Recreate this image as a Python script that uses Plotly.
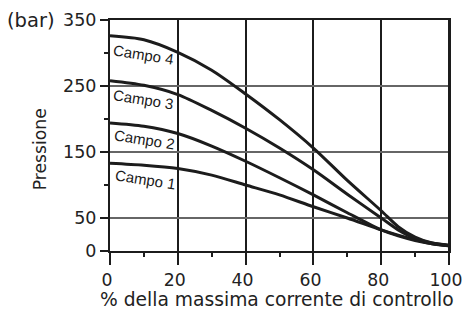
import plotly.graph_objects as go

x_pct = [0, 10, 20, 30, 40, 50, 60, 70, 80, 85, 90, 95, 100]
campo4 = [326, 320, 301, 274, 238, 199, 156, 107, 61, 37, 21, 12, 9]
campo3 = [258, 251, 237, 213, 186, 156, 123, 86, 50, 32, 19, 12, 8]
campo2 = [194, 189, 178, 159, 136, 111, 85, 58, 32, 23, 16, 11, 8]
campo1 = [133, 130, 125, 115, 100, 85, 67, 50, 32, 24, 17, 11, 8]
series_names = ["Campo 1", "Campo 2", "Campo 3", "Campo 4"]
label_pos = [(10.5, 108), (10.2, 169), (10.0, 230), (9.8, 297)]

y_tickvals = [0, 50, 150, 250, 350]
y_ticktext = ["0", "50", "150", "250", "350"]
y_minor = [100, 200, 300]
x_tickvals = [0, 20, 40, 60, 80, 100]
x_minor = [10, 30, 50, 70, 90]

FONT = "DejaVu Sans"
LINE = "#1c1c1c"
TXT = "#222"

fig = go.Figure()
for name, ys in zip(series_names, [campo1, campo2, campo3, campo4]):
    fig.add_trace(go.Scatter(x=x_pct, y=ys, mode="lines", name=name,
                             line=dict(color=LINE, width=3, shape="spline", smoothing=0.8),
                             showlegend=False, hoverinfo="skip"))

for name, (lx, ly) in zip(series_names, label_pos):
    fig.add_annotation(x=lx, y=ly, text=name, showarrow=False, textangle=9,
                       font=dict(family="Liberation Sans", size=15, color="#1a1a1a"),
                       xanchor="center", yanchor="middle")

fig.add_annotation(xref="paper", yref="y", x=-0.156, y=350, text="(bar)", showarrow=False,
                   xanchor="right", yanchor="middle", font=dict(family=FONT, size=19.5, color=TXT))
fig.add_annotation(xref="paper", yref="y", x=-0.204, y=154, text="Pressione", showarrow=False,
                   textangle=-90, xanchor="center", yanchor="middle",
                   font=dict(family=FONT, size=17.2, color=TXT))
fig.add_annotation(xref="paper", yref="paper", x=0.494, y=-0.212,
                   text="% della massima corrente di controllo", showarrow=False,
                   xanchor="center", yanchor="middle", font=dict(family=FONT, size=18.7, color=TXT))

fig.add_shape(type="line", xref="paper", yref="paper", x0=1, x1=1, y0=0, y1=1,
              line=dict(color=LINE, width=2))

fig.update_xaxes(range=[0, 100], tickvals=x_tickvals, ticks="outside", ticklen=12,
                 tickwidth=1.5, tickcolor=LINE, showline=True, linecolor=LINE, linewidth=2,
                 mirror=True, showgrid=True, gridcolor=LINE, gridwidth=2, zeroline=False,
                 ticklabeloverflow="allow", automargin=False, ticklabelshift=-3,
                 minor=dict(tickvals=x_minor, ticks="outside", ticklen=4, tickcolor=LINE, showgrid=False),
                 tickfont=dict(family=FONT, size=17.3, color=TXT))
fig.update_yaxes(range=[0, 350], tickvals=y_tickvals, ticktext=y_ticktext, ticks="outside",
                 ticklen=8, tickwidth=1.5, tickcolor=LINE, showline=True, linecolor=LINE,
                 linewidth=2, mirror=True, showgrid=True, gridcolor="#666", gridwidth=1.5,
                 zeroline=False, automargin=False,
                 minor=dict(tickvals=y_minor, ticks="outside", ticklen=4, tickcolor=LINE, showgrid=False),
                 tickfont=dict(family=FONT, size=17.5, color=TXT))

fig.update_layout(width=464, height=309, margin=dict(l=110, r=15, t=20, b=58),
                  plot_bgcolor="white", paper_bgcolor="white")

fig.write_html("out.html", config={"displayModeBar": False},
               post_script="document.body.style.margin='0';document.body.style.overflow='hidden';")
